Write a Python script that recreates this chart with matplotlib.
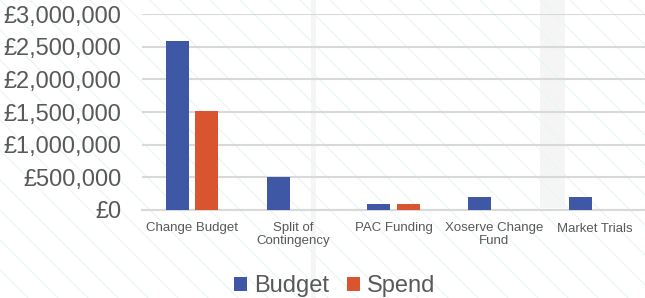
import numpy as np
import matplotlib
matplotlib.use("Agg")
import matplotlib.pyplot as plt
from matplotlib.ticker import FuncFormatter

# data
categories = ["Change Budget", "Split of\nContingency", "PAC Funding",
              "Xoserve Change\nFund", "Market Trials"]
budget = [2590000, 505000, 92000, 200000, 200000]
spend = [1515000, 0, 92000, 0, 0]

BLUE = "#3F58A6"
ORANGE = "#D9552F"
GREY_TXT = "#595959"

plt.rcParams["font.family"] = ["Liberation Sans", "DejaVu Sans"]

fig = plt.figure(figsize=(6.45, 2.98), dpi=100)

# faint diagonal hatching over the whole background
bg = fig.add_axes([0, 0, 1, 1], zorder=-10)
bg.set_xlim(0, 645)
bg.set_ylim(298, 0)
bg.axis("off")
for x0 in range(-300, 660, 30):
    bg.plot([x0, x0 + 320], [0, 320], color="#E6F5F5", lw=0.8)
bg.axvspan(540, 565, ymin=1 - 208 / 298, ymax=1, color="#EFEFEF", alpha=0.6, lw=0)
bg.axvspan(311, 316, color="#EFEFEF", alpha=0.6, lw=0)

ax = fig.add_axes([142 / 645, 1 - 210 / 298, 1 - 142 / 645, 196 / 298])
ax.patch.set_alpha(0)

x = np.arange(len(categories))
w = 0.23
off = 0.145
ax.bar(x - off, budget, w, color=BLUE, label="Budget", zorder=3)
ax.bar(x + off, spend, w, color=ORANGE, label="Spend", zorder=3)

ax.set_xlim(-0.5, len(categories) - 0.5)
ax.set_ylim(0, 3000000)
ax.set_yticks(np.arange(0, 3000001, 500000))
ax.yaxis.set_major_formatter(FuncFormatter(lambda v, p: "£{:,.0f}".format(v)))
ax.grid(axis="y", color="#D9D9D9", lw=1.5, zorder=0)
for s in ["top", "right", "left"]:
    ax.spines[s].set_visible(False)
ax.spines["bottom"].set_color("#D9D9D9")
ax.spines["bottom"].set_linewidth(1.5)

ax.set_xticks(x)
ax.set_xticklabels(categories, fontsize=9.5, color=GREY_TXT, linespacing=1.1)
ax.tick_params(axis="x", length=0, pad=9)
ax.tick_params(axis="y", length=0, labelsize=17, labelcolor=GREY_TXT, pad=15)

leg = fig.legend(loc="center", bbox_to_anchor=(335 / 645, 1 - 286 / 298), ncol=2,
                 frameon=False, fontsize=17, handlelength=0.55, handleheight=0.55,
                 handletextpad=0.3, columnspacing=0.75)
for t in leg.get_texts():
    t.set_color(GREY_TXT)

fig.savefig("out.png", dpi=100)
